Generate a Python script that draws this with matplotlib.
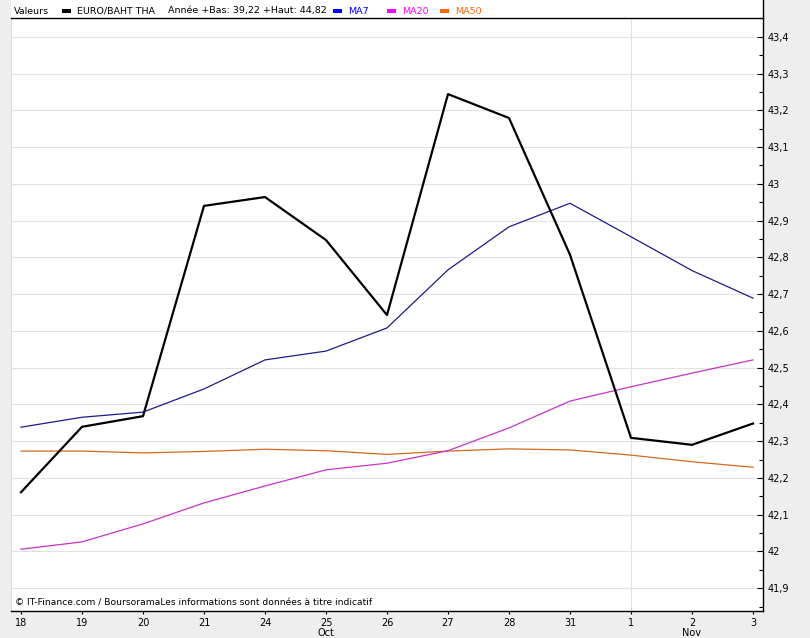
# EURO/BAHT THA daily chart with moving averages (MA7, MA20, MA50)

import matplotlib
matplotlib.use('Agg')
import matplotlib.pyplot as plt
from matplotlib.ticker import MultipleLocator, FuncFormatter
from matplotlib.lines import Line2D
from matplotlib.patches import Rectangle

days = ['18', '19', '20', '21', '24', '25', '26', '27', '28', '31', '1', '2', '3']
months = [('Oct', 5), ('Nov', 11)]

eur_thb = [42.161, 42.339, 42.368, 42.940, 42.964, 42.847, 42.643,
           43.244, 43.179, 42.807, 42.309, 42.290, 42.348]
ma7 = [42.338, 42.365, 42.379, 42.442, 42.521, 42.545, 42.608,
       42.766, 42.883, 42.947, 42.856, 42.764, 42.689]
ma20 = [42.006, 42.026, 42.075, 42.132, 42.178, 42.222, 42.240,
        42.274, 42.336, 42.409, 42.448, 42.485, 42.521]
ma50 = [42.273, 42.273, 42.268, 42.272, 42.278, 42.274, 42.264,
        42.273, 42.279, 42.276, 42.262, 42.244, 42.229]

plt.rcParams['font.family'] = ['DejaVu Sans']

W, H = 810, 638
fig = plt.figure(figsize=(W / 100, H / 100), dpi=100, facecolor='#eeeeee')

# white strip for the legend line
fig.add_artist(Rectangle((11 / W, 1 - 18 / H), 752 / W, 18 / H, transform=fig.transFigure,
                         facecolor='white', edgecolor='none', zorder=0))

ax = fig.add_axes([11 / W, 1 - 611 / H, (763 - 11) / W, (611 - 18) / H])
ax.set_facecolor('white')

x = list(range(len(days)))
ax.plot(x, ma50, color='#d2691e', lw=0.9, zorder=3)
ax.plot(x, ma20, color='#c832c8', lw=0.9, zorder=3)
ax.plot(x, ma7, color='#1c1c8c', lw=0.9, zorder=4)
ax.plot(x, eur_thb, color='black', lw=1.6, zorder=5)

ax.set_xlim(-0.164, 12.164)
ax.set_ylim(41.838, 43.451)

ax.yaxis.tick_right()
ax.yaxis.set_major_locator(MultipleLocator(0.1))
ax.yaxis.set_minor_locator(MultipleLocator(0.05))

def fmt(v, pos):
    s = '%.1f' % v
    if s.endswith('.0'):
        s = s[:-2]
    return s.replace('.', ',')

ax.yaxis.set_major_formatter(FuncFormatter(fmt))
ax.tick_params(axis='y', which='both', direction='in', length=4, width=0.8,
               labelsize=7, pad=3, colors='black')
ax.tick_params(axis='y', which='minor', length=3)
ax.set_xticks(x)
ax.set_xticklabels(days)
ax.tick_params(axis='x', length=2, width=0.8, labelsize=7, pad=3)

ax.yaxis.grid(True, color='#e2e2e2', lw=0.8)
ax.axvline(10, color='#e2e2e2', lw=0.8, zorder=1)
ax.set_axisbelow(True)

for side in ['top', 'right', 'bottom']:
    ax.spines[side].set_color('black')
    ax.spines[side].set_linewidth(1)
ax.spines['left'].set_color('#dddddd')

for name, i in months:
    ax.text(i, -0.037, name, transform=ax.get_xaxis_transform(), ha='center',
            va='center', fontsize=7, clip_on=False)

ax.text(0.005, 0.0135, '© IT-Finance.com / BoursoramaLes informations sont données à titre indicatif',
        transform=ax.transAxes, fontsize=6.6, va='center', ha='left', zorder=6)

# right spine continues up through the legend strip
fig.add_artist(Line2D([763 / W, 763 / W], [1 - 18 / H, 1], transform=fig.transFigure,
                      color='black', lw=1))

# legend row
ly = 1 - 11 / H
def ltext(px, s, c):
    fig.text(px / W, ly, s, color=c, fontsize=6.8, va='center', ha='left')

def ldash(px, c):
    fig.add_artist(Rectangle((px / W, ly - 2 / H), 9 / W, 4 / H, transform=fig.transFigure,
                             facecolor=c, edgecolor='none'))

ltext(14, 'Valeurs', 'black')
ldash(62, 'black')
ltext(77, 'EURO/BAHT THA', 'black')
ltext(168, 'Année +Bas: 39,22 +Haut: 44,82', 'black')
ldash(333, '#0000ff')
ltext(348, 'MA7', '#0000ff')
ldash(387, '#ff00ff')
ltext(402, 'MA20', '#ff00ff')
ldash(440, '#ff6600')
ltext(455, 'MA50', '#ff6600')

fig.savefig('out.png', dpi=100, facecolor=fig.get_facecolor())
plt.close()
